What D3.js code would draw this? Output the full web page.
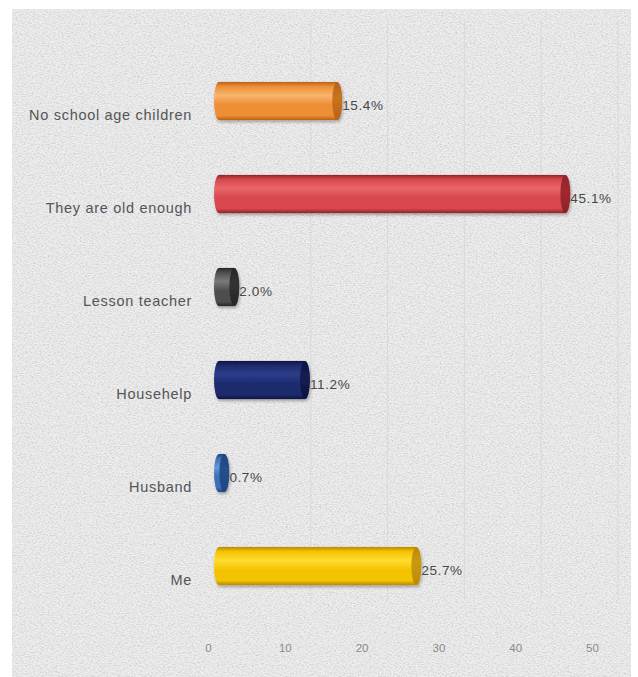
<!DOCTYPE html>
<html><head><meta charset="utf-8">
<script src="https://cdn.jsdelivr.net/npm/d3@7"></script>
<style>body{margin:0;background:#fff;}svg{display:block;}</style>
</head><body>
<svg id="chart" width="638" height="677"></svg>
<script>
const categories = ["No school age children","They are old enough","Lesson teacher","Househelp","Husband","Me"];
const values = [15.4, 45.1, 2.0, 11.2, 0.7, 25.7];
const valueLabels = ["15.4%","45.1%","2.0%","11.2%","0.7%","25.7%"];
const tickValues = [0,10,20,30,40,50];
const colors = [
  {base:"#EE8E35", light:"#F8B56E", dark:"#B8621A", cap:"#C9731F"},
  {base:"#D8474D", light:"#E9666B", dark:"#8F2328", cap:"#A3282E"},
  {base:"#4E4E4E", light:"#7A7A7A", dark:"#262626", cap:"#333333"},
  {base:"#1D2A6E", light:"#2D3D8A", dark:"#0E1540", cap:"#141C52"},
  {base:"#3C6FB6", light:"#6A98D6", dark:"#1F4680", cap:"#254F8F"},
  {base:"#F4C300", light:"#FFDD33", dark:"#B98A06", cap:"#C99A08"}
];

const svg = d3.select("#chart");
const defs = svg.append("defs");

// texture filter
const f = defs.append("filter").attr("id","noise").attr("x",0).attr("y",0).attr("width","100%").attr("height","100%");
f.append("feTurbulence").attr("type","fractalNoise").attr("baseFrequency","0.5 0.9").attr("numOctaves",3).attr("seed",7).attr("result","t");
f.append("feColorMatrix").attr("type","matrix")
  .attr("values","0 0 0 0 0.5  0 0 0 0 0.5  0 0 0 0 0.5  1.8 0 0 0 -0.7");

const sh = defs.append("filter").attr("id","shadow").attr("x","-10%").attr("y","-30%").attr("width","130%").attr("height","180%");
sh.append("feDropShadow").attr("dx",1).attr("dy",2).attr("stdDeviation",1.5).attr("flood-color","#000").attr("flood-opacity",0.3);

colors.forEach((c,i)=>{
  const g = defs.append("linearGradient").attr("id","g"+i).attr("x1",0).attr("y1",0).attr("x2",0).attr("y2",1);
  [[0,c.dark],[0.12,c.base],[0.35,c.light],[0.6,c.base],[0.88,c.base],[1,c.dark]].forEach(s=>
    g.append("stop").attr("offset",s[0]).attr("stop-color",s[1]));
  const gc = defs.append("linearGradient").attr("id","c"+i).attr("x1",0).attr("y1",0).attr("x2",0).attr("y2",1);
  [[0,c.dark],[0.4,c.cap],[1,c.dark]].forEach(s=>
    gc.append("stop").attr("offset",s[0]).attr("stop-color",s[1]));
});

// background panel
svg.append("rect").attr("x",12).attr("y",9).attr("width",619).attr("height",668).attr("fill","#eeeeee");
svg.append("rect").attr("x",12).attr("y",9).attr("width",619).attr("height",668).attr("filter","url(#noise)").attr("opacity",0.75);

const x = d3.scaleLinear().domain([0,50]).range([219,603]);
const y = d3.scaleBand().domain(categories).range([54.5,612.5]).paddingInner(0.59).paddingOuter(0.295);
const bw = y.bandwidth();
const capR = 5;

// gridlines (back wall, offset for 3D depth)
svg.append("g").selectAll("line").data(tickValues.slice(1)).join("line")
  .attr("x1",d=>x(d)+15).attr("x2",d=>x(d)+15)
  .attr("y1",20).attr("y2",600)
  .attr("stroke","#d9d9d9").attr("stroke-width",1);

// axis tick labels
const axis = d3.axisBottom(x).tickValues(tickValues).tickSize(0).tickPadding(0);
const ag = svg.append("g").attr("transform","translate(-11,644)").call(axis);
ag.select(".domain").remove();
ag.selectAll("text").attr("fill","#8a8a8a").attr("font-size",11.5)
  .attr("font-family","'Liberation Sans',sans-serif");

// bars
const bars = svg.append("g").selectAll("g").data(categories).join("g").attr("filter","url(#shadow)");
bars.each(function(cat,i){
  const g = d3.select(this);
  const cy = y(cat)+bw/2;
  const x0 = x(0), x1 = x(values[i]);
  g.append("ellipse").attr("cx",x0).attr("cy",cy).attr("rx",capR).attr("ry",bw/2).attr("fill","url(#g"+i+")");
  g.append("rect").attr("x",x0).attr("y",y(cat)).attr("width",Math.max(0,x1-x0)).attr("height",bw).attr("fill","url(#g"+i+")");
  g.append("ellipse").attr("cx",x1).attr("cy",cy).attr("rx",capR).attr("ry",bw/2).attr("fill","url(#c"+i+")");
});

// value labels
svg.append("g").selectAll("text").data(categories).join("text")
  .attr("x",(d,i)=>x(values[i])+capR)
  .attr("y",d=>y(d)+bw/2+9)
  .attr("fill","#484848").attr("font-size",13.5).attr("letter-spacing",0.6)
  .attr("font-family","'Liberation Sans',sans-serif")
  .text((d,i)=>valueLabels[i]);

// category labels
svg.append("g").selectAll("text").data(categories).join("text")
  .attr("x",192).attr("y",d=>y(d)+bw/2+19)
  .attr("text-anchor","end")
  .attr("fill","#555").attr("font-size",14.5).attr("letter-spacing",0.7)
  .attr("font-family","'Liberation Sans',sans-serif")
  .text(d=>d);
</script>
</body></html>
